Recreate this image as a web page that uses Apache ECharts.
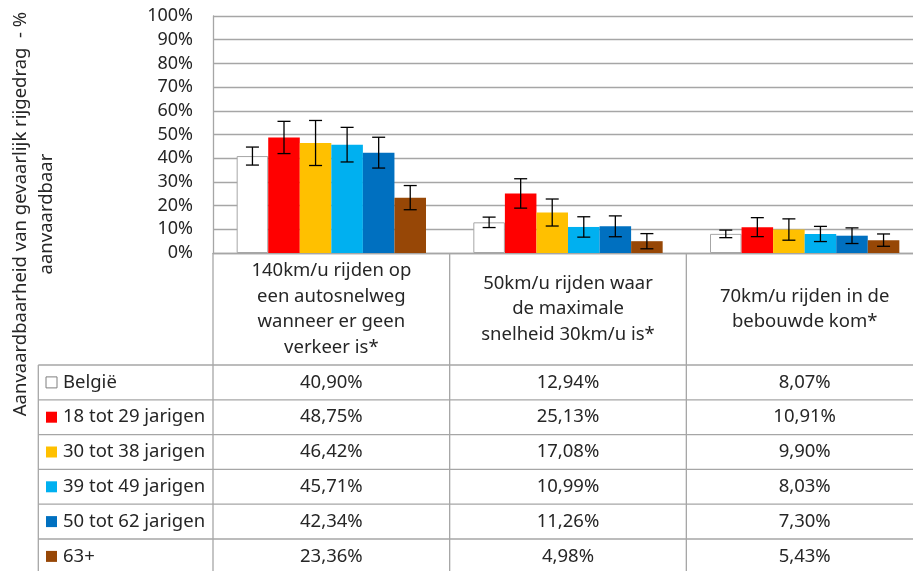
<!DOCTYPE html>
<html lang="nl">
<head>
    <meta charset="UTF-8">
    <title>Aanvaardbaarheid van gevaarlijk rijgedrag</title>
    <script src="https://cdn.jsdelivr.net/npm/echarts@6/dist/echarts.min.js"></script>
    <style>
        body { margin: 0; background: #fff; }
        #main { width: 913px; height: 571px; }
    </style>
</head>
<body>
<div id="main"></div>
<script>
    // categorieen (regelafbreking zoals in de grafiek)
    var categories = [
        '140km/u rijden op\neen autosnelweg\nwanneer er geen\nverkeer is*',
        '50km/u rijden waar\nde maximale\nsnelheid 30km/u is*',
        '70km/u rijden in de\nbebouwde kom*'
    ];
    var groups = ['België', '18 tot 29 jarigen', '30 tot 38 jarigen', '39 tot 49 jarigen', '50 tot 62 jarigen', '63+'];
    var colors = ['#ffffff', '#ff0000', '#ffc000', '#00b0f0', '#0070c0', '#974706'];

    // percentages per groep
    var belgie   = [40.90, 12.94, 8.07];
    var j18tot29 = [48.75, 25.13, 10.91];
    var j30tot38 = [46.42, 17.08, 9.90];
    var j39tot49 = [45.71, 10.99, 8.03];
    var j50tot62 = [42.34, 11.26, 7.30];
    var j63plus  = [23.36, 4.98, 5.43];
    var values = [belgie, j18tot29, j30tot38, j39tot49, j50tot62, j63plus];

    // foutmarges (+/-)
    var errBelgie = [3.8, 2.2, 1.6];
    var err18 = [6.8, 6.2, 4.0];
    var err30 = [9.5, 5.7, 4.5];
    var err39 = [7.3, 4.3, 3.2];
    var err50 = [6.5, 4.4, 3.3];
    var err63 = [5.1, 3.2, 2.6];
    var errors = [errBelgie, err18, err30, err39, err50, err63];

    var yTicks = [0, 10, 20, 30, 40, 50, 60, 70, 80, 90, 100];

    var FONT = 'Noto Sans';
    var TXT = '#262626';
    var LINE = '#a6a6a6';
    var CAT_GAP = 0.2;

    var errData = [];
    for (var s = 0; s < values.length; s++) {
        for (var c = 0; c < categories.length; c++) {
            errData.push([c, s, values[s][c] - errors[s][c], values[s][c] + errors[s][c]]);
        }
    }

    var series = groups.map(function (name, i) {
        return {
            name: name,
            type: 'bar',
            data: values[i],
            barGap: 0,
            barCategoryGap: (CAT_GAP * 100) + '%',
            itemStyle: i === 0 ? { color: '#fff', borderColor: LINE, borderWidth: 1 } : { color: colors[i] },
            silent: true
        };
    });

    series.push({
        type: 'custom',
        z: 10,
        silent: true,
        data: errData,
        renderItem: function (params, api) {
            var cat = api.value(0);
            var s = api.value(1);
            var band = api.size([1, 0])[0];
            var barW = band * (1 - CAT_GAP) / groups.length;
            var x = api.coord([cat, 0])[0] + (s - (groups.length - 1) / 2) * barW;
            var yLo = api.coord([cat, api.value(2)])[1];
            var yHi = api.coord([cat, api.value(3)])[1];
            var cap = 6.5;
            var st = { stroke: '#000', lineWidth: 1.3 };
            return {
                type: 'group',
                children: [
                    { type: 'line', shape: { x1: x, y1: yHi, x2: x, y2: yLo }, style: st },
                    { type: 'line', shape: { x1: x - cap, y1: yHi, x2: x + cap, y2: yHi }, style: st },
                    { type: 'line', shape: { x1: x - cap, y1: yLo, x2: x + cap, y2: yLo }, style: st }
                ]
            };
        }
    });

    var option = {
        backgroundColor: '#fff',
        animation: false,
        textStyle: { fontFamily: FONT },
        grid: { left: 213, top: 16, width: 710, height: 237, outerBoundsMode: 'none' },
        xAxis: {
            type: 'category',
            data: categories,
            axisLabel: { show: false },
            axisTick: { show: false },
            axisLine: { lineStyle: { color: LINE, width: 1.3 } }
        },
        yAxis: {
            type: 'value',
            min: yTicks[0],
            max: yTicks[yTicks.length - 1],
            interval: 10,
            axisLine: { show: true, lineStyle: { color: LINE, width: 1.3 } },
            axisTick: { show: false },
            splitLine: { lineStyle: { color: LINE, width: 1.3 } },
            axisLabel: { formatter: '{value}%', color: TXT, fontSize: 18, fontFamily: FONT, margin: 20 }
        },
        series: series
    };

    var myChart = echarts.init(document.getElementById('main'));
    myChart.setOption(option);

    // gegevenstabel onder de grafiek
    var c0 = myChart.convertToPixel({ xAxisIndex: 0 }, 0);
    var c1 = myChart.convertToPixel({ xAxisIndex: 0 }, 1);
    var band = c1 - c0;
    var plotLeft = c0 - band / 2;
    var headTop = myChart.convertToPixel({ yAxisIndex: 0 }, 0);
    var headBottom = 365;
    var rowH = 34.8;
    var tableLeft = 38.3;
    var tableRight = plotLeft + band * categories.length;
    var tableBottom = headBottom + rowH * groups.length;
    var lineStyle = { stroke: LINE, lineWidth: 1.3 };

    var g = [];
    // verticale lijnen
    g.push({ type: 'line', shape: { x1: plotLeft, y1: headTop, x2: plotLeft, y2: tableBottom }, style: lineStyle });
    g.push({ type: 'line', shape: { x1: tableLeft, y1: headBottom, x2: tableLeft, y2: tableBottom }, style: lineStyle });
    for (var k = 1; k <= categories.length; k++) {
        var vx = plotLeft + band * k;
        g.push({ type: 'line', shape: { x1: vx, y1: headTop, x2: vx, y2: tableBottom }, style: lineStyle });
    }
    // horizontale lijnen
    for (var r = 0; r <= groups.length; r++) {
        var hy = headBottom + rowH * r;
        g.push({ type: 'line', shape: { x1: tableLeft, y1: hy, x2: tableRight, y2: hy }, style: lineStyle });
    }
    // kopteksten
    categories.forEach(function (cat, i) {
        g.push({
            type: 'text',
            x: plotLeft + band * (i + 0.5),
            y: (headTop + headBottom) / 2,
            style: {
                text: cat, fill: TXT, font: '18.5px "' + FONT + '"',
                textAlign: 'center', textVerticalAlign: 'middle', lineHeight: 25.5
            }
        });
    });
    // rijen
    groups.forEach(function (name, i) {
        var cy = headBottom + rowH * (i + 0.5);
        g.push({
            type: 'rect',
            shape: { x: 46, y: cy - 5.5, width: 11, height: 11 },
            style: i === 0 ? { fill: '#fff', stroke: '#7f7f7f', lineWidth: 1 } : { fill: colors[i] }
        });
        g.push({
            type: 'text', x: 63, y: cy,
            style: { text: name, fill: TXT, font: '18.5px "' + FONT + '"', textAlign: 'left', textVerticalAlign: 'middle' }
        });
        values[i].forEach(function (v, c) {
            g.push({
                type: 'text',
                x: plotLeft + band * (c + 0.5), y: cy,
                style: {
                    text: v.toFixed(2).replace('.', ',') + '%', fill: TXT, font: '18.5px "' + FONT + '"',
                    textAlign: 'center', textVerticalAlign: 'middle'
                }
            });
        });
    });
    // titel y-as
    g.push({
        type: 'text', x: 34, y: 214, rotation: Math.PI / 2,
        style: {
            text: 'Aanvaardbaarheid van gevaarlijk rijgedrag  - %\naanvaardbaar',
            fill: TXT, font: '18.5px "' + FONT + '"',
            textAlign: 'center', textVerticalAlign: 'middle', lineHeight: 26
        }
    });

    myChart.setOption({ graphic: { elements: g.map(function (e) { e.silent = true; return e; }) } });
</script>
</body>
</html>
